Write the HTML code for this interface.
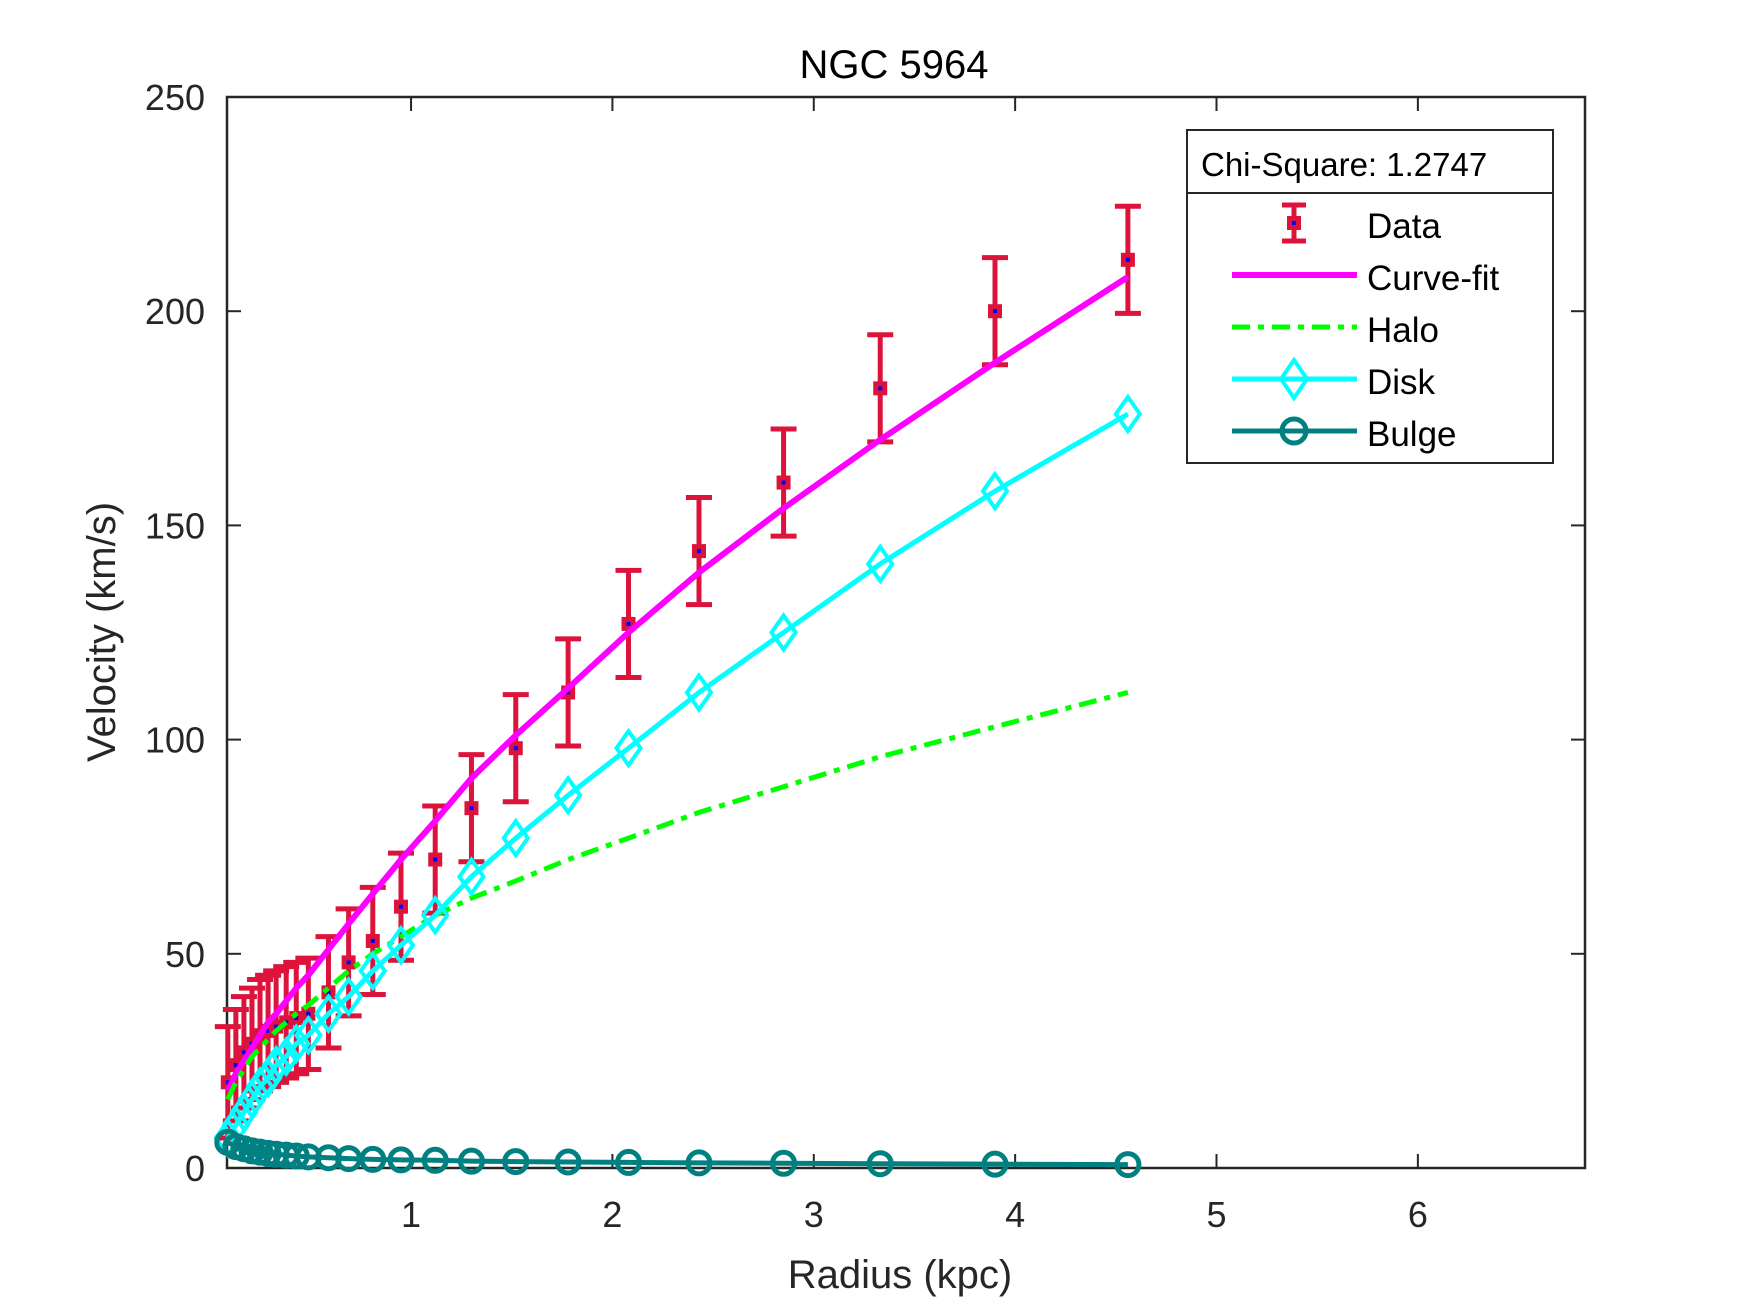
<!DOCTYPE html>
<html><head><meta charset="utf-8">
<style>
html,body{margin:0;padding:0;background:#fff;}
svg{display:block;font-family:"Liberation Sans",sans-serif;}
</style></head>
<body>
<svg id="chart" width="1750" height="1313" viewBox="0 0 1750 1313">
<rect x="0" y="0" width="1750" height="1313" fill="#fff"/>
<text x="894" y="78" font-size="40" text-anchor="middle" fill="#000">NGC 5964</text>
<g id="axes"></g>
<g id="plot"></g>
<text x="900" y="1288" font-size="40" text-anchor="middle" fill="#262626">Radius (kpc)</text>
<text transform="translate(115,632) rotate(-90)" font-size="40" text-anchor="middle" fill="#262626">Velocity (km/s)</text>
<g id="legend">
  <rect x="1187" y="130" width="366" height="333" fill="#fff" stroke="#262626" stroke-width="2"/>
  <line x1="1187" y1="193" x2="1553" y2="193" stroke="#262626" stroke-width="2"/>
  <text x="1201" y="176" font-size="33" fill="#000">Chi-Square: 1.2747</text>
  <g>
    <line x1="1294" y1="205" x2="1294" y2="241" stroke="#DC143C" stroke-width="5"/>
    <line x1="1282" y1="205" x2="1306" y2="205" stroke="#DC143C" stroke-width="5"/>
    <line x1="1282" y1="241" x2="1306" y2="241" stroke="#DC143C" stroke-width="5"/>
    <rect x="1287" y="216" width="14" height="14" fill="#DC143C"/>
    <rect x="1292" y="221" width="4" height="4" fill="#00f"/>
    <text x="1367" y="238" font-size="35" fill="#000">Data</text>
  </g>
  <g>
    <line x1="1232" y1="275" x2="1357" y2="275" stroke="#FF00FF" stroke-width="6"/>
    <text x="1367" y="290" font-size="35" fill="#000">Curve-fit</text>
  </g>
  <g>
    <line x1="1232" y1="327" x2="1357" y2="327" stroke="#00FF00" stroke-width="5" stroke-dasharray="18,8,6,8"/>
    <text x="1367" y="342" font-size="35" fill="#000">Halo</text>
  </g>
  <g>
    <line x1="1232" y1="379" x2="1357" y2="379" stroke="#00FFFF" stroke-width="5"/>
    <polygon points="1294,360 1307,379 1294,398 1281,379" fill="none" stroke="#00FFFF" stroke-width="4"/>
    <text x="1367" y="394" font-size="35" fill="#000">Disk</text>
  </g>
  <g>
    <line x1="1232" y1="431" x2="1357" y2="431" stroke="#008080" stroke-width="5"/>
    <circle cx="1294" cy="431" r="12" fill="none" stroke="#008080" stroke-width="5"/>
    <text x="1367" y="446" font-size="35" fill="#000">Bulge</text>
  </g>
</g>
</svg>
<script>
const radius = [0.09,0.13,0.17,0.21,0.25,0.29,0.33,0.38,0.43,0.49,0.59,0.69,0.81,0.95,1.12,1.30,1.52,1.78,2.08,2.43,2.85,3.33,3.90,4.56];
const dataVel = [20,24,27,29,31,32,33,34,35,36,41,48,53,61,72,84,98,111,127,144,160,182,200,212];
const dataErr = [13,13,13,13,13,13,13,13,13,13,13,12.5,12.5,12.5,12.5,12.5,12.5,12.5,12.5,12.5,12.5,12.5,12.5,12.5];
const fitVel = [18,22,25,28,31,34,36,39,42,45,51,57,64,72,81,91,101,112,125,139,154,170,188,208];
const haloVel = [16,20,23,26,28,30,32,34,36,38,42,46,50,54,59,63,67,72,77,83,89,96,103,111];
const diskVel = [7,10,13,16,19,21,24,26,29,31,36,40,46,52,59,68,77,87,98,111,125,141,158,176];
const bulgeVel = [6,5,4.5,4,3.7,3.4,3.2,3,2.8,2.6,2.4,2.2,2.0,1.9,1.8,1.6,1.5,1.4,1.3,1.2,1.1,1.0,0.9,0.8];
const xTicks = [1,2,3,4,5,6];
const yTicks = [0,50,100,150,200,250];

const X0=227, X1=1585, Y0=1168, Y1=97, XMIN=0.086, XMAX=6.83, YMIN=0, YMAX=250;
function sx(v){return X0+(v-XMIN)/(XMAX-XMIN)*(X1-X0);}
function sy(v){return Y0-(v-YMIN)/(YMAX-YMIN)*(Y0-Y1);}
const NS="http://www.w3.org/2000/svg";
function mk(tag,attrs,parent){const e=document.createElementNS(NS,tag);for(const k in attrs)e.setAttribute(k,attrs[k]);parent.appendChild(e);return e;}
const axes=document.getElementById('axes'), plot=document.getElementById('plot');

const box=mk('rect',{x:X0,y:Y1,width:X1-X0,height:Y0-Y1,fill:'none',stroke:'#262626','stroke-width':2.5},axes);


xTicks.forEach(t=>{
  const x=sx(t);
  mk('line',{x1:x,y1:Y0,x2:x,y2:Y0-14,stroke:'#262626','stroke-width':2},axes);
  mk('line',{x1:x,y1:Y1,x2:x,y2:Y1+14,stroke:'#262626','stroke-width':2},axes);
  const tx=mk('text',{x:x,y:Y0+59,'font-size':36,'text-anchor':'middle',fill:'#262626'},axes);
  tx.textContent=t;
  
  
});
yTicks.forEach(t=>{
  const y=sy(t);
  mk('line',{x1:X0,y1:y,x2:X0+14,y2:y,stroke:'#262626','stroke-width':2},axes);
  mk('line',{x1:X1,y1:y,x2:X1-14,y2:y,stroke:'#262626','stroke-width':2},axes);
  const tx=mk('text',{x:X0-22,y:y+13,'font-size':36,'text-anchor':'end',fill:'#262626'},axes);
  tx.textContent=t;
  
  
});

function pts(arr){return radius.map((r,i)=>sx(r)+','+sy(arr[i])).join(' ');}

const eg=mk('g',{},plot);


radius.forEach((r,i)=>{
  const x=sx(r), yt=sy(dataVel[i]+dataErr[i]), yb=sy(dataVel[i]-dataErr[i]), y=sy(dataVel[i]);
  mk('line',{x1:x,y1:yt,x2:x,y2:yb,stroke:'#DC143C','stroke-width':5},eg);
  mk('line',{x1:x-13,y1:yt,x2:x+13,y2:yt,stroke:'#DC143C','stroke-width':5},eg);
  mk('line',{x1:x-13,y1:yb,x2:x+13,y2:yb,stroke:'#DC143C','stroke-width':5},eg);
  const m=mk('rect',{x:x-7,y:y-7,width:14,height:14,fill:'#DC143C'},eg);
  
  
  mk('rect',{x:x-2,y:y-2,width:4,height:4,fill:'#0000ff'},eg);
});

const fit=mk('polyline',{points:pts(fitVel),fill:'none',stroke:'#FF00FF','stroke-width':6},plot);



const halo=mk('polyline',{points:pts(haloVel),fill:'none',stroke:'#00FF00','stroke-width':5,'stroke-dasharray':'18,8,6,8'},plot);



const disk=mk('polyline',{points:pts(diskVel),fill:'none',stroke:'#00FFFF','stroke-width':5},plot);


radius.forEach((r,i)=>{
  const x=sx(r), y=sy(diskVel[i]);
  const d=mk('polygon',{points:`${x},${y-17} ${x+12},${y} ${x},${y+17} ${x-12},${y}`,fill:'none',stroke:'#00FFFF','stroke-width':4},plot);
  
  
});

const bulge=mk('polyline',{points:pts(bulgeVel),fill:'none',stroke:'#008080','stroke-width':5},plot);


radius.forEach((r,i)=>{
  const c=mk('circle',{cx:sx(r),cy:sy(bulgeVel[i]),r:11,fill:'none',stroke:'#008080','stroke-width':5},plot);
  
  
});
</script>
</body></html>
